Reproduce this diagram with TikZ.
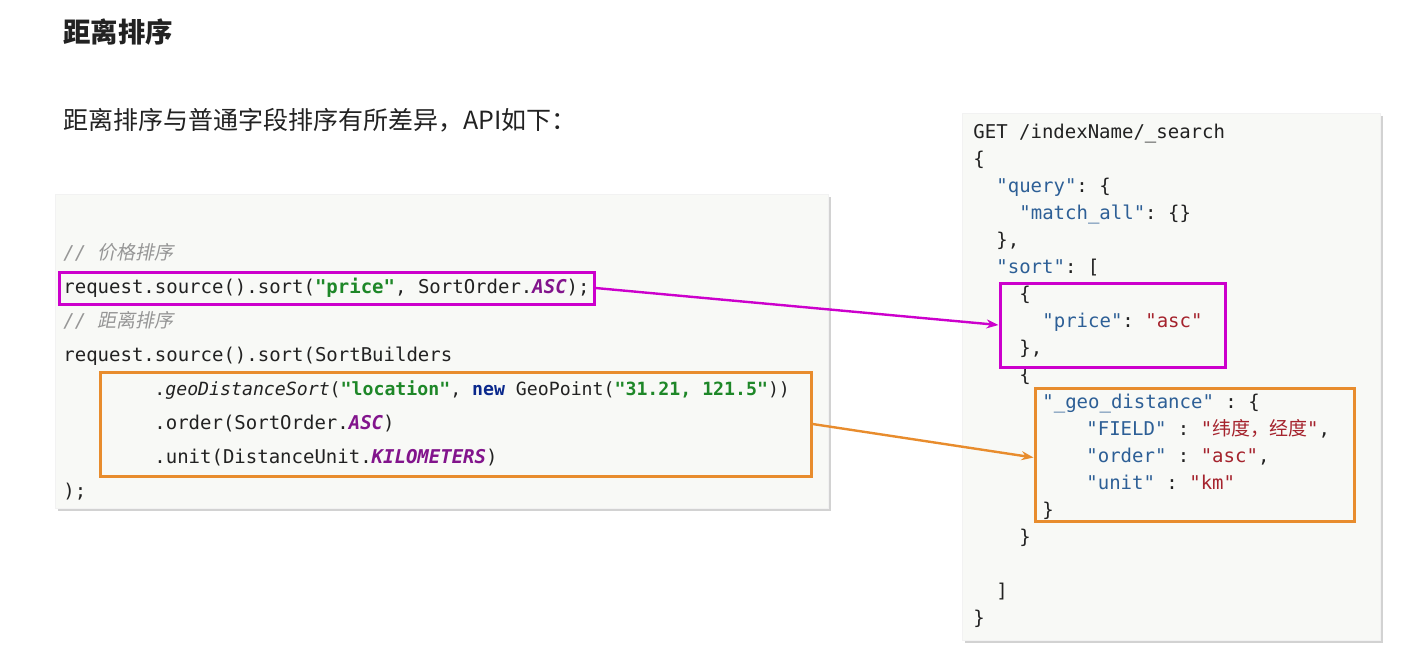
\documentclass[tikz,border=0pt]{standalone}
\usepackage{fontspec}
\setmainfont{Noto Sans CJK SC}
\setmonofont{DejaVu Sans Mono}
\newfontfamily\cjk{Noto Sans CJK SC}
\newfontfamily\cjkit[FakeSlant=0.2]{Noto Sans CJK SC}
\usetikzlibrary{positioning,fit,shadows,arrows.meta}

\definecolor{panelbg}{RGB}{248,249,246}
\definecolor{codeblack}{RGB}{34,34,34}
\definecolor{strgreen}{RGB}{30,135,40}
\definecolor{cstpurple}{RGB}{130,20,140}
\definecolor{kwdnavy}{RGB}{10,40,140}
\definecolor{cmtgray}{RGB}{150,150,150}
\definecolor{keyblue}{RGB}{45,95,150}
\definecolor{valred}{RGB}{165,35,45}
\definecolor{hlmagenta}{RGB}{204,0,204}
\definecolor{hlorange}{RGB}{232,140,45}

\newcommand{\strg}[1]{\textcolor{strgreen}{\bfseries #1}}
\newcommand{\cst}[1]{\textcolor{cstpurple}{\bfseries\itshape #1}}
\newcommand{\kwd}[1]{\textcolor{kwdnavy}{\bfseries #1}}
\newcommand{\jkey}[1]{\textcolor{keyblue}{#1}}
\newcommand{\jval}[1]{\textcolor{valred}{#1}}

\tikzset{
  code/.style={anchor=base west, inner sep=0pt, text=codeblack,
    font=\ttfamily\fontsize{9.5}{11}\selectfont},
  panel/.style={inner sep=0pt, fill=panelbg, draw=black!5,
    drop shadow={shadow xshift=1.5pt, shadow yshift=-1.5pt, opacity=0.35}},
  hlbox/.style={inner sep=0pt, line width=1.5pt},
  hlarrow/.style={line width=1.2pt, -{Stealth[length=6pt,width=4.5pt]}}
}

\begin{document}
\begin{tikzpicture}[x=0.5pt,y=-0.5pt]
    \useasboundingbox[fill=white] (0,0) rectangle (1423,665);
    % heading
    \node[anchor=west, inner sep=0pt, text=codeblack, font=\fontsize{13.7}{16}\selectfont\bfseries] (title) at (63,32) {距离排序};
    \node[anchor=west, inner sep=0pt, text=codeblack, font=\fontsize{12.5}{15}\selectfont] (intro) at (63,120) {距离排序与普通字段排序有所差异，API如下：};
    % panels
    \node[panel, fit={(55,194) (828,508)}] (javapanel) {};
    \node[panel, fit={(962,113) (1380,640)}] (jsonpanel) {};
    % java code
    \node[code, text=cmtgray] (j1) at (63,259) {\itshape // {\cjkit 价格排序}};
    \node[code] (j2) at (63,293) {request.source().sort(\strg{"price"}, SortOrder.\cst{ASC});};
    \node[code, text=cmtgray] (j3) at (63,327) {\itshape // {\cjkit 距离排序}};
    \node[code] (j4) at (63,361) {request.source().sort(SortBuilders};
    \node[code, font=\ttfamily\fontsize{9.1}{11}\selectfont] (j5) at (154,395) {.\textit{geoDistanceSort}(\strg{"location"}, \kwd{new} GeoPoint(\strg{"31.21, 121.5"}))};
    \node[code] (j6) at (154,429) {.order(SortOrder.\cst{ASC})};
    \node[code] (j7) at (154,463) {.unit(DistanceUnit.\cst{KILOMETERS})};
    \node[code] (j8) at (63,497) {);};
    % json code
    \node[code] (q1) at (973,138) {GET /indexName/\_search};
    \node[code] (q2) at (973,165) {\{};
    \node[code] (q3) at (996,192) {\jkey{"query"}: \{};
    \node[code] (q4) at (1019,219) {\jkey{"match\_all"}: \{\}};
    \node[code] (q5) at (996,246) {\},};
    \node[code] (q6) at (996,273) {\jkey{"sort"}: [};
    \node[code] (q7) at (1019,300) {\{};
    \node[code] (q8) at (1042,327) {\jkey{"price"}: \jval{"asc"}};
    \node[code] (q9) at (1019,354) {\},};
    \node[code] (q10) at (1019,381) {\{};
    \node[code] (q11) at (1042,408) {\jkey{"\_geo\_distance"} : \{};
    \node[code] (q12) at (1086,435) {\jkey{"FIELD"} : \jval{"{\cjk 纬度，经度}"},};
    \node[code] (q13) at (1086,462) {\jkey{"order"} : \jval{"asc"},};
    \node[code] (q14) at (1086,489) {\jkey{"unit"} : \jval{"km"}};
    \node[code] (q15) at (1042,516) {\}};
    \node[code] (q16) at (1019,543) {\}};
    \node[code] (q17) at (996,597) {]};
    \node[code] (q18) at (973,624) {\}};
    % highlights
    \node[hlbox, draw=hlmagenta, fit={(59,272) (594,304)}] (pricesrc) {};
    \node[hlbox, draw=hlmagenta, fit={(1000,283) (1225,367)}] (pricedst) {};
    \node[hlbox, draw=hlorange, fit={(100,372) (811,476)}] (geosrc) {};
    \node[hlbox, draw=hlorange, fit={(1035,388) (1354,521)}] (geodst) {};
    \draw[hlarrow, hlmagenta] (pricesrc.east) -- (pricedst.west);
    \draw[hlarrow, hlorange] (geosrc.east) -- ([yshift=-1.5pt]geodst.west);
\end{tikzpicture}
\end{document}
